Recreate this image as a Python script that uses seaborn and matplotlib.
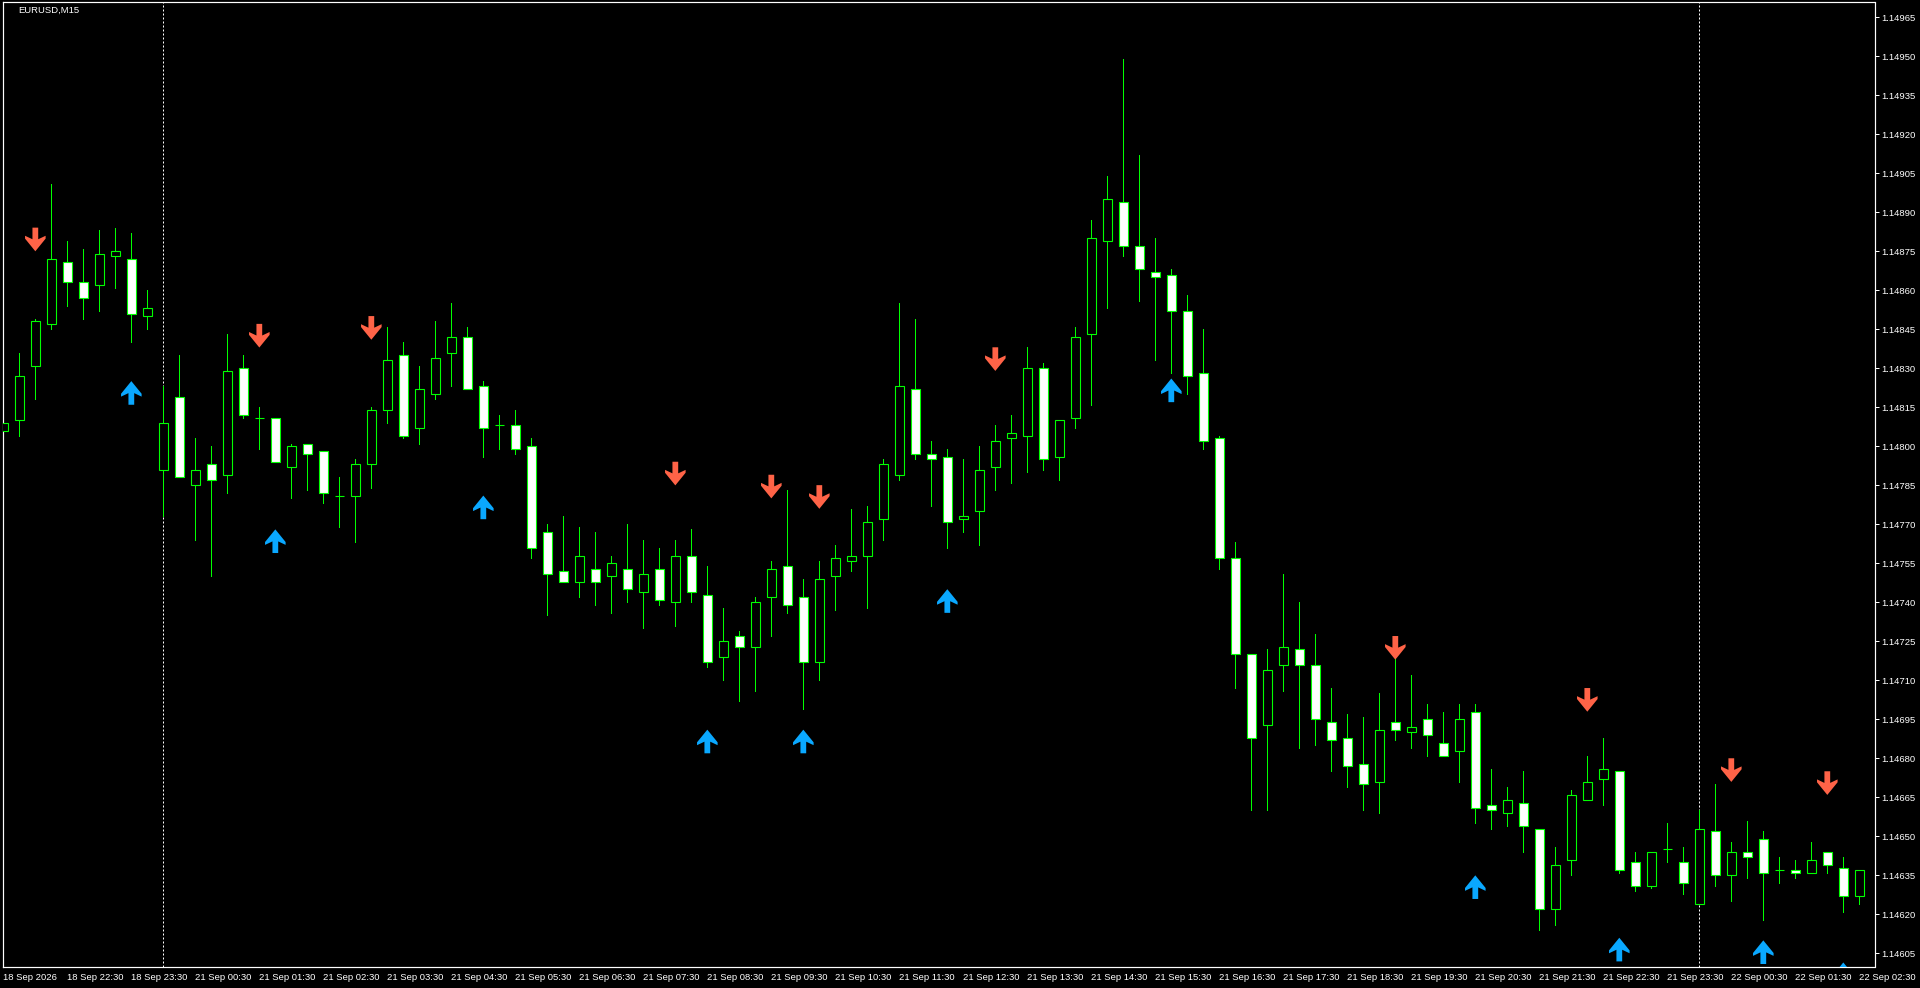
import numpy as np
import pandas as pd
import matplotlib
matplotlib.use('Agg')
import matplotlib.pyplot as plt
from matplotlib.path import Path
import seaborn as sns

# EURUSD M15 bars, 18 Sep 21:30 .. 22 Sep 02:30 (weekend skipped)
opens = [1.14806, 1.14810, 1.14831, 1.14847, 1.14871, 1.14863, 1.14862, 1.14873, 1.14872, 1.14850,
         1.14791, 1.14819, 1.14785, 1.14793, 1.14789, 1.14830, 1.14811, 1.14811, 1.14792, 1.14801,
         1.14798, 1.14781, 1.14781, 1.14793, 1.14814, 1.14835, 1.14807, 1.14820, 1.14836, 1.14842,
         1.14823, 1.14808, 1.14808, 1.14800, 1.14767, 1.14752, 1.14748, 1.14753, 1.14750, 1.14753,
         1.14744, 1.14753, 1.14740, 1.14758, 1.14743, 1.14719, 1.14727, 1.14723, 1.14742, 1.14754,
         1.14742, 1.14717, 1.14750, 1.14756, 1.14758, 1.14772, 1.14789, 1.14822, 1.14797, 1.14796,
         1.14772, 1.14775, 1.14792, 1.14803, 1.14804, 1.14830, 1.14796, 1.14811, 1.14843, 1.14879,
         1.14894, 1.14877, 1.14867, 1.14866, 1.14852, 1.14828, 1.14803, 1.14757, 1.14720, 1.14693,
         1.14716, 1.14722, 1.14716, 1.14694, 1.14688, 1.14678, 1.14671, 1.14694, 1.14690, 1.14695,
         1.14686, 1.14683, 1.14698, 1.14662, 1.14659, 1.14663, 1.14653, 1.14622, 1.14641, 1.14664,
         1.14672, 1.14675, 1.14640, 1.14631, 1.14645, 1.14640, 1.14624, 1.14652, 1.14635, 1.14644,
         1.14649, 1.14637, 1.14637, 1.14636, 1.14644, 1.14638, 1.14627]
highs = [1.14825, 1.14836, 1.14849, 1.14901, 1.14879, 1.14876, 1.14883, 1.14884, 1.14882, 1.14860,
         1.14823, 1.14835, 1.14803, 1.14800, 1.14843, 1.14835, 1.14815, 1.14811, 1.14801, 1.14801,
         1.14798, 1.14788, 1.14795, 1.14815, 1.14846, 1.14840, 1.14831, 1.14848, 1.14855, 1.14846,
         1.14825, 1.14812, 1.14814, 1.14803, 1.14770, 1.14773, 1.14769, 1.14767, 1.14758, 1.14770,
         1.14764, 1.14761, 1.14764, 1.14768, 1.14754, 1.14738, 1.14729, 1.14742, 1.14756, 1.14783,
         1.14749, 1.14756, 1.14762, 1.14776, 1.14777, 1.14795, 1.14855, 1.14849, 1.14802, 1.14799,
         1.14795, 1.14800, 1.14808, 1.14812, 1.14838, 1.14832, 1.14810, 1.14846, 1.14887, 1.14904,
         1.14949, 1.14912, 1.14880, 1.14868, 1.14858, 1.14845, 1.14804, 1.14763, 1.14720, 1.14722,
         1.14751, 1.14740, 1.14728, 1.14707, 1.14697, 1.14696, 1.14705, 1.14719, 1.14712, 1.14701,
         1.14698, 1.14701, 1.14701, 1.14676, 1.14669, 1.14675, 1.14653, 1.14646, 1.14668, 1.14681,
         1.14688, 1.14675, 1.14644, 1.14644, 1.14655, 1.14646, 1.14660, 1.14670, 1.14648, 1.14656,
         1.14652, 1.14642, 1.14641, 1.14648, 1.14644, 1.14642, 1.14637]
lows = [1.14799, 1.14804, 1.14818, 1.14845, 1.14854, 1.14849, 1.14852, 1.14861, 1.14840, 1.14845,
        1.14773, 1.14788, 1.14764, 1.14750, 1.14782, 1.14811, 1.14799, 1.14794, 1.14780, 1.14783,
        1.14778, 1.14769, 1.14763, 1.14784, 1.14809, 1.14803, 1.14801, 1.14818, 1.14823, 1.14822,
        1.14796, 1.14799, 1.14797, 1.14757, 1.14735, 1.14748, 1.14742, 1.14739, 1.14736, 1.14740,
        1.14730, 1.14739, 1.14731, 1.14740, 1.14715, 1.14710, 1.14702, 1.14706, 1.14727, 1.14736,
        1.14699, 1.14710, 1.14737, 1.14752, 1.14738, 1.14764, 1.14787, 1.14795, 1.14777, 1.14761,
        1.14767, 1.14762, 1.14783, 1.14786, 1.14790, 1.14791, 1.14787, 1.14807, 1.14816, 1.14853,
        1.14873, 1.14856, 1.14833, 1.14828, 1.14820, 1.14799, 1.14753, 1.14707, 1.14660, 1.14660,
        1.14706, 1.14684, 1.14685, 1.14675, 1.14669, 1.14660, 1.14659, 1.14687, 1.14684, 1.14681,
        1.14681, 1.14671, 1.14655, 1.14653, 1.14654, 1.14644, 1.14614, 1.14616, 1.14635, 1.14664,
        1.14662, 1.14636, 1.14629, 1.14630, 1.14640, 1.14628, 1.14624, 1.14631, 1.14625, 1.14634,
        1.14618, 1.14632, 1.14634, 1.14636, 1.14636, 1.14621, 1.14624]
closes = [1.14809, 1.14827, 1.14848, 1.14872, 1.14863, 1.14857, 1.14874, 1.14875, 1.14851, 1.14853,
          1.14809, 1.14788, 1.14791, 1.14787, 1.14829, 1.14812, 1.14811, 1.14794, 1.14800, 1.14797,
          1.14782, 1.14781, 1.14793, 1.14814, 1.14833, 1.14804, 1.14822, 1.14834, 1.14842, 1.14822,
          1.14807, 1.14808, 1.14799, 1.14761, 1.14751, 1.14748, 1.14758, 1.14748, 1.14755, 1.14745,
          1.14751, 1.14741, 1.14758, 1.14744, 1.14717, 1.14725, 1.14723, 1.14740, 1.14753, 1.14739,
          1.14717, 1.14749, 1.14757, 1.14758, 1.14771, 1.14793, 1.14823, 1.14797, 1.14795, 1.14771,
          1.14773, 1.14791, 1.14802, 1.14805, 1.14830, 1.14795, 1.14810, 1.14842, 1.14880, 1.14895,
          1.14877, 1.14868, 1.14865, 1.14852, 1.14827, 1.14802, 1.14757, 1.14720, 1.14688, 1.14714,
          1.14723, 1.14716, 1.14695, 1.14687, 1.14677, 1.14670, 1.14691, 1.14691, 1.14692, 1.14689,
          1.14681, 1.14695, 1.14661, 1.14660, 1.14664, 1.14654, 1.14622, 1.14639, 1.14666, 1.14671,
          1.14676, 1.14637, 1.14631, 1.14644, 1.14645, 1.14632, 1.14653, 1.14635, 1.14644, 1.14642,
          1.14636, 1.14637, 1.14636, 1.14641, 1.14639, 1.14627, 1.14637]

# signal arrows (bar index, price level of arrow)
sell_bars = [2, 16, 23, 42, 48, 51, 62, 87, 99, 108, 114]
sell_levels = [1.148795, 1.148425, 1.148455, 1.147895, 1.147845, 1.147805,
               1.148335, 1.147225, 1.147025, 1.146755, 1.146705]
buy_bars = [8, 17, 30, 44, 50, 59, 73, 92, 101, 110, 115]
buy_levels = [1.148205, 1.147635, 1.147765, 1.146865, 1.146865, 1.147405,
              1.148215, 1.146305, 1.146065, 1.146055, 1.145970]

time_labels = ['18 Sep 2026', '18 Sep 22:30', '18 Sep 23:30',
               '21 Sep 00:30', '21 Sep 01:30', '21 Sep 02:30', '21 Sep 03:30', '21 Sep 04:30',
               '21 Sep 05:30', '21 Sep 06:30', '21 Sep 07:30', '21 Sep 08:30', '21 Sep 09:30',
               '21 Sep 10:30', '21 Sep 11:30', '21 Sep 12:30', '21 Sep 13:30', '21 Sep 14:30',
               '21 Sep 15:30', '21 Sep 16:30', '21 Sep 17:30', '21 Sep 18:30', '21 Sep 19:30',
               '21 Sep 20:30', '21 Sep 21:30', '21 Sep 22:30', '21 Sep 23:30',
               '22 Sep 00:30', '22 Sep 01:30', '22 Sep 02:30']
price_ticks = np.linspace(1.14605, 1.14965, 25)

GREEN = '#00FF00'
RED = '#FF6347'
BLUE = '#0AA8FF'
PX = 0.72  # one pixel in points at dpi 100

bar_times = pd.date_range('2026-09-18 21:30', '2026-09-18 23:45', freq='15min').append(
    pd.date_range('2026-09-21 00:00', '2026-09-22 02:30', freq='15min'))

df = pd.DataFrame({'time': bar_times, 'open': opens, 'high': highs, 'low': lows, 'close': closes})
df['x'] = np.arange(len(df))
bull = df['close'] > df['open']
body_low = df[['open', 'close']].min(axis=1)
body_h = (df['close'] - df['open']).abs()

day = df['time'].dt.normalize()
separators = df.loc[day != day.shift(1), 'x'].iloc[1:]
label_pos = df.loc[df['time'].dt.minute == 30, 'x']

sns.set_style('dark', {'axes.facecolor': 'black', 'figure.facecolor': 'black'})
plt.rcParams['font.family'] = ['Liberation Sans', 'DejaVu Sans']

# arrow markers (MT4 style: thick stem, swept-back head)
down_verts = [(-0.28, 1.15), (0.28, 1.15), (0.28, 0.02), (1.0, 0.36), (1.0, 0.08),
              (0.0, -1.15), (-1.0, 0.08), (-1.0, 0.36), (-0.28, 0.02), (-0.28, 1.15)]
down_marker = Path(down_verts, closed=True)
up_marker = Path([(x, -y) for x, y in down_verts], closed=True)

fig = plt.figure(figsize=(19.2, 9.88), dpi=100)
ax = fig.add_axes([2.5 / 1920, 21 / 988, 1872 / 1920, 964.5 / 988])
ax.set_facecolor('black')

for s in separators:
    ax.axvline(s, color='white', lw=PX, ls=(0, (2, 2)), zorder=1)

ax.vlines(df['x'], df['low'], df['high'], color=GREEN, lw=PX, zorder=2, antialiased=False)
ax.bar(df['x'], body_h, bottom=body_low, width=0.6,
       color=np.where(bull, 'black', 'white'), edgecolor=GREEN, linewidth=PX * 1.1, zorder=3)

arrows = pd.DataFrame({
    'x': sell_bars + buy_bars,
    'price': sell_levels + buy_levels,
    'kind': ['sell'] * len(sell_bars) + ['buy'] * len(buy_bars),
})
sns.scatterplot(data=arrows, x='x', y='price', hue='kind', style='kind',
                markers={'sell': down_marker, 'buy': up_marker},
                palette={'sell': RED, 'buy': BLUE}, s=290, linewidth=0,
                legend=False, ax=ax, zorder=4)

ax.set_xlim(-0.052, 116.95)
ax.set_ylim(1.145998, 1.149706)

ax.yaxis.tick_right()
ax.set_yticks(price_ticks)
ax.set_yticklabels([f'{p:.5f}' for p in price_ticks])
ax.set_xticks(label_pos)
ax.set_xticklabels(time_labels, ha='left')
ax.tick_params(axis='both', colors='white', labelcolor='white', labelsize=6.8,
               length=3, width=PX, direction='out')
ax.tick_params(axis='y', pad=2)
ax.tick_params(axis='x', pad=1)
ax.set_xlabel('')
ax.set_ylabel('')
ax.grid(False)
for sp in ax.spines.values():
    sp.set_visible(True)
    sp.set_color('white')
    sp.set_linewidth(PX * 1.2)

fig.text(18 / 1920, 1 - 10 / 988, 'EURUSD,M15', color='white', fontsize=6.8,
         ha='left', va='center')

fig.savefig('out.png', dpi=100, facecolor='black')
